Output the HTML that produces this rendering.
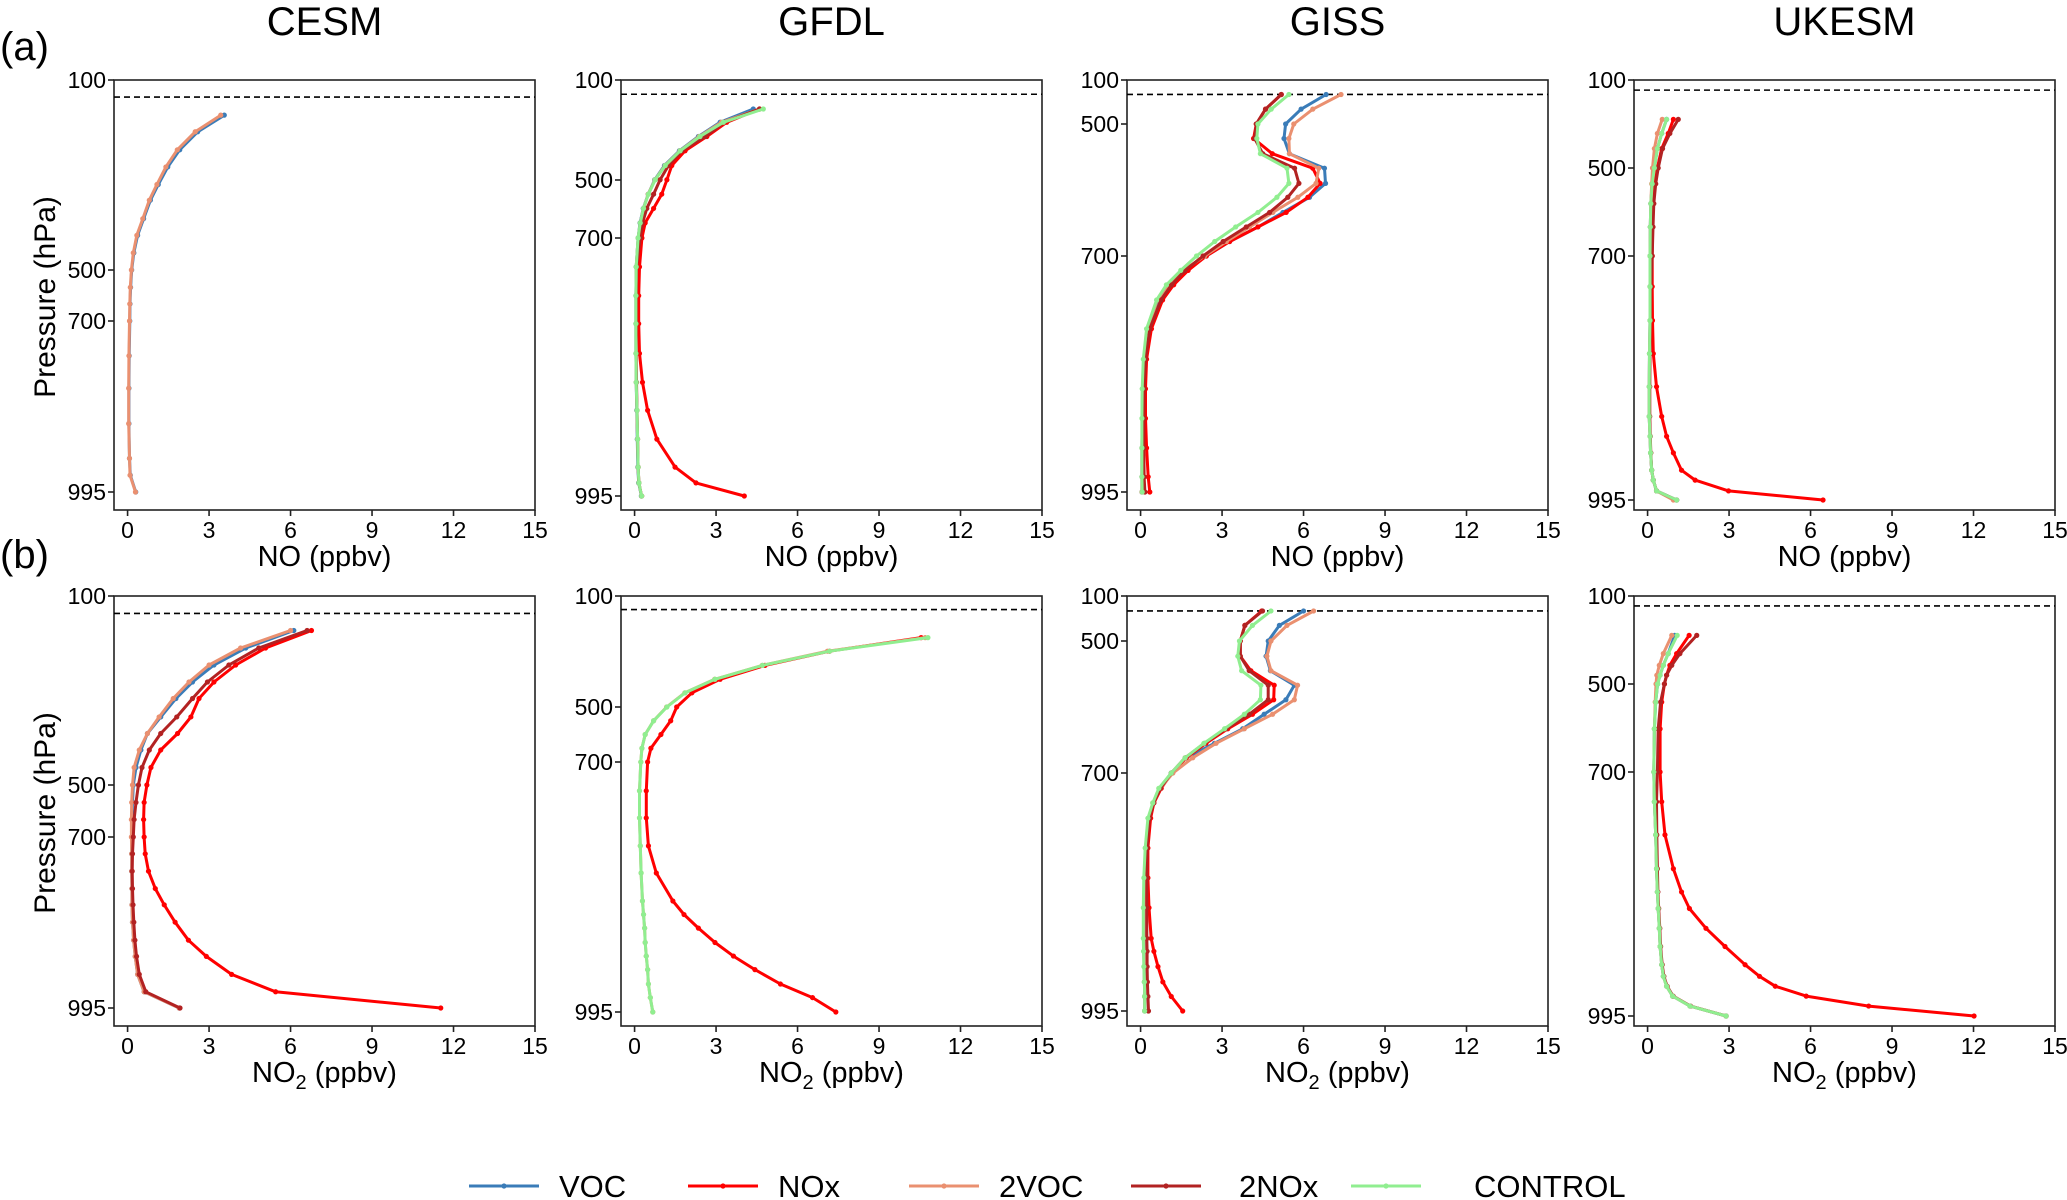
<!DOCTYPE html>
<html><head><meta charset="utf-8"><style>
html,body{margin:0;padding:0;background:#fff}
svg{display:block}
text{font-family:"Liberation Sans",Arial,sans-serif;fill:#000}
</style></head><body>
<svg id="fig" width="2067" height="1200" viewBox="0 0 2067 1200" xmlns="http://www.w3.org/2000/svg"></svg>
<script>
// ---- data ----
const seriesNames = ['VOC','NOx','2VOC','2NOx','CONTROL'];
const xTickLabels = [0,3,6,9,12,15];
const yTickLabels = [100,500,700,995];
const modelNames = ['CESM','GFDL','GISS','UKESM'];
const tropopause = [136,157,231,146, 137,149,233,145];

// CESM NO
const cesmA_pres = [174,209,247,283,320,353,392,427,464,500,568,633,700,760,816,877,937,966,995];
const cesmA_VOC  = [3.56,2.58,1.92,1.48,1.13,0.84,0.59,0.37,0.23,0.15,0.11,0.09,0.08,0.06,0.05,0.05,0.07,0.10,0.30];
const cesmA_2VOC = [3.43,2.49,1.83,1.41,1.08,0.80,0.56,0.34,0.21,0.14,0.10,0.08,0.07,0.05,0.04,0.04,0.07,0.09,0.29];
// GFDL NO
const gfdlA_pres = [216,269,326,383,442,499,549,598,648,700,733,766,798,832,865,897,930,962,980,995];
const gfdlA_VOC  = [4.37,3.15,2.35,1.65,1.10,0.74,0.50,0.32,0.20,0.13,0.06,0.05,0.05,0.05,0.06,0.08,0.10,0.12,0.15,0.25];
const gfdlA_NOx  = [4.6,3.39,2.66,1.86,1.37,1.19,1.0,0.70,0.39,0.27,0.18,0.15,0.15,0.18,0.29,0.48,0.82,1.49,2.26,4.04];
const gfdlA_2VOC = [4.6,3.2,2.38,1.67,1.12,0.75,0.50,0.33,0.21,0.13,0.06,0.05,0.05,0.05,0.06,0.09,0.11,0.13,0.16,0.26];
const gfdlA_2NOx = [4.6,3.3,2.6,1.74,1.25,0.94,0.70,0.45,0.29,0.21,0.07,0.06,0.06,0.06,0.07,0.09,0.11,0.13,0.16,0.26];
const gfdlA_CTL  = [4.74,3.27,2.41,1.68,1.13,0.76,0.51,0.33,0.21,0.13,0.06,0.05,0.05,0.05,0.06,0.09,0.11,0.13,0.16,0.26];
// GISS NO
const gissA_pres = [232,365,500,522,545,567,590,611,634,656,678,700,718,736,755,791,829,866,903,940,976,995];
const gissA_VOC  = [6.83,5.91,5.34,5.28,5.48,6.77,6.81,6.22,5.24,4.32,3.28,2.42,1.69,1.14,0.71,0.28,0.13,0.07,0.06,0.05,0.05,0.05];
const gissA_NOx  = [5.18,4.60,4.26,4.16,4.85,6.34,6.61,6.16,5.36,4.32,3.28,2.42,1.75,1.22,0.81,0.40,0.22,0.18,0.18,0.22,0.28,0.34];
const gissA_2VOC = [7.38,6.34,5.64,5.46,5.48,6.56,6.46,5.79,4.87,4.01,3.16,2.36,1.57,1.02,0.61,0.28,0.13,0.07,0.06,0.05,0.05,0.05];
const gissA_2NOx = [5.18,4.60,4.26,4.20,4.50,5.67,5.83,5.42,4.75,3.89,3.04,2.30,1.63,1.14,0.75,0.34,0.18,0.13,0.12,0.12,0.13,0.16];
const gissA_CTL  = [5.46,4.81,4.32,4.28,4.41,5.39,5.46,5.02,4.32,3.50,2.73,2.06,1.48,0.95,0.59,0.22,0.10,0.06,0.05,0.05,0.05,0.06];
// UKESM NO
const ukA_pres = [279,343,412,500,536,581,634,700,737,778,818,858,894,918,938,959,971,984,995];
const ukA_VOC  = [0.70,0.52,0.36,0.25,0.17,0.12,0.10,0.09,0.09,0.09,0.07,0.06,0.06,0.09,0.11,0.15,0.21,0.33,1.07];
const ukA_NOx  = [0.95,0.76,0.52,0.36,0.27,0.21,0.18,0.17,0.17,0.18,0.21,0.33,0.52,0.70,0.95,1.25,1.75,2.98,6.46];
const ukA_2VOC = [0.54,0.36,0.25,0.18,0.15,0.12,0.10,0.09,0.09,0.09,0.07,0.06,0.06,0.09,0.11,0.15,0.21,0.33,0.95];
const ukA_2NOx = [1.13,0.82,0.55,0.39,0.30,0.23,0.20,0.17,0.12,0.10,0.09,0.08,0.08,0.10,0.12,0.15,0.21,0.33,1.07];
const ukA_CTL  = [0.70,0.52,0.36,0.25,0.17,0.12,0.10,0.09,0.09,0.09,0.07,0.06,0.06,0.09,0.11,0.15,0.21,0.33,1.07];
// CESM NO2
const cesmB_pres = [173,210,246,282,317,356,391,426,463,500,567,633,700,729,759,789,817,847,878,906,937,967,995];
const cesmB_VOC  = [6.12,4.35,3.18,2.39,1.78,1.22,0.73,0.49,0.31,0.21,0.18,0.16,0.15,0.15,0.15,0.16,0.16,0.18,0.22,0.28,0.37,0.61,1.90];
const cesmB_NOx  = [6.77,5.08,3.98,3.18,2.63,2.33,1.84,1.22,0.86,0.71,0.61,0.59,0.61,0.65,0.77,1.02,1.35,1.75,2.24,2.90,3.83,5.45,11.53];
const cesmB_2VOC = [6.0,4.16,3.0,2.26,1.68,1.16,0.73,0.43,0.24,0.18,0.15,0.14,0.14,0.15,0.15,0.16,0.16,0.18,0.22,0.28,0.37,0.61,1.90];
const cesmB_2NOx = [6.61,4.83,3.73,2.94,2.39,1.81,1.22,0.80,0.53,0.40,0.31,0.24,0.21,0.18,0.17,0.18,0.20,0.23,0.27,0.33,0.43,0.67,1.93];
// GFDL NO2
const gfdlB_pres = [250,299,350,400,449,500,550,600,650,700,734,766,799,831,864,880,896,913,929,945,962,978,995];
const gfdlB_NOx  = [10.55,7.18,4.80,3.15,2.11,1.55,1.33,0.97,0.60,0.48,0.43,0.43,0.51,0.80,1.41,1.82,2.35,2.96,3.64,4.43,5.37,6.55,7.41];
const gfdlB_2VOC = [10.70,7.10,4.70,2.95,1.85,1.18,0.70,0.39,0.27,0.23,0.18,0.18,0.21,0.24,0.29,0.33,0.37,0.39,0.43,0.48,0.51,0.58,0.67];
const gfdlB_CTL  = [10.80,7.18,4.71,2.96,1.86,1.19,0.70,0.39,0.27,0.23,0.18,0.18,0.21,0.24,0.29,0.33,0.37,0.39,0.43,0.48,0.51,0.58,0.67];
// GISS NO2
const gissB_pres = [233,361,500,523,545,567,589,611,633,655,677,700,719,737,756,793,830,867,905,921,940,959,977,995];
const gissB_VOC  = [6.0,5.11,4.70,4.62,4.78,5.66,5.35,4.55,3.76,2.72,1.68,1.13,0.70,0.49,0.29,0.18,0.15,0.12,0.12,0.12,0.13,0.14,0.15,0.15];
const gissB_NOx  = [4.46,3.84,3.67,3.67,4.06,4.92,4.90,4.12,3.21,2.41,1.68,1.15,0.76,0.49,0.37,0.27,0.27,0.31,0.39,0.49,0.64,0.82,1.13,1.55];
const gissB_2VOC = [6.37,5.39,4.80,4.65,4.80,5.78,5.66,4.86,3.82,2.78,1.92,1.19,0.73,0.45,0.29,0.18,0.15,0.12,0.12,0.12,0.13,0.14,0.15,0.15];
const gissB_2NOx = [4.49,3.84,3.67,3.67,4.0,4.70,4.70,4.0,3.15,2.35,1.64,1.13,0.73,0.48,0.33,0.24,0.23,0.23,0.23,0.24,0.24,0.25,0.27,0.29];
const gissB_CTL  = [4.80,4.12,3.64,3.58,3.72,4.43,4.41,3.82,3.09,2.33,1.64,1.13,0.67,0.45,0.27,0.17,0.12,0.10,0.10,0.11,0.12,0.14,0.15,0.15];
// UKESM NO2
const ukB_pres = [279,362,415,460,500,541,602,700,736,776,817,845,865,889,911,933,947,959,971,983,995];
const ukB_VOC  = [1.0,0.76,0.58,0.46,0.37,0.30,0.25,0.23,0.25,0.30,0.33,0.36,0.39,0.43,0.46,0.52,0.58,0.70,0.92,1.56,2.89];
const ukB_NOx  = [1.53,1.07,0.82,0.70,0.62,0.52,0.46,0.46,0.52,0.64,0.95,1.25,1.54,2.15,2.85,3.59,4.12,4.70,5.84,8.14,12.02];
const ukB_2VOC = [0.89,0.58,0.43,0.34,0.31,0.28,0.25,0.23,0.25,0.30,0.33,0.36,0.39,0.43,0.46,0.52,0.58,0.70,0.92,1.56,2.89];
const ukB_2NOx = [1.81,1.19,0.89,0.70,0.62,0.48,0.39,0.36,0.33,0.34,0.36,0.38,0.41,0.45,0.48,0.54,0.60,0.72,0.94,1.58,2.89];
const ukB_CTL  = [1.09,0.76,0.58,0.46,0.37,0.30,0.25,0.23,0.25,0.30,0.33,0.36,0.39,0.43,0.46,0.52,0.58,0.70,0.92,1.56,2.89];

// ---- layout ----
const colors = {'VOC':'#3a7cb8','NOx':'#ff0000','2VOC':'#ea9070','2NOx':'#b22222','CONTROL':'#90ee90'};
const colLeft = [114,621,1127,1634];
const rowTop = [80,596];
const W = 421, H = 430;
const XMIN = -0.5, XMAX = 15;
const tickOffsets = [
  [190,241,412],[100,158,416],[44,176,412],[88,176,420],
  [189,241,412],[111,166,416],[45,177,415],[88,176,420]
];
const panels = [
  {pres:cesmA_pres, d:{'VOC':cesmA_VOC,'2VOC':cesmA_2VOC}},
  {pres:gfdlA_pres, d:{'VOC':gfdlA_VOC,'NOx':gfdlA_NOx,'2VOC':gfdlA_2VOC,'2NOx':gfdlA_2NOx,'CONTROL':gfdlA_CTL}},
  {pres:gissA_pres, d:{'VOC':gissA_VOC,'NOx':gissA_NOx,'2VOC':gissA_2VOC,'2NOx':gissA_2NOx,'CONTROL':gissA_CTL}},
  {pres:ukA_pres, d:{'VOC':ukA_VOC,'NOx':ukA_NOx,'2VOC':ukA_2VOC,'2NOx':ukA_2NOx,'CONTROL':ukA_CTL}},
  {pres:cesmB_pres, d:{'VOC':cesmB_VOC,'NOx':cesmB_NOx,'2VOC':cesmB_2VOC,'2NOx':cesmB_2NOx}},
  {pres:gfdlB_pres, d:{'NOx':gfdlB_NOx,'2VOC':gfdlB_2VOC,'CONTROL':gfdlB_CTL}},
  {pres:gissB_pres, d:{'VOC':gissB_VOC,'NOx':gissB_NOx,'2VOC':gissB_2VOC,'2NOx':gissB_2NOx,'CONTROL':gissB_CTL}},
  {pres:ukB_pres, d:{'VOC':ukB_VOC,'NOx':ukB_NOx,'2VOC':ukB_2VOC,'2NOx':ukB_2NOx,'CONTROL':ukB_CTL}}
];

const NS = 'http://www.w3.org/2000/svg';
const svg = document.getElementById('fig');
function mk(tag, attrs, parent){
  const e = document.createElementNS(NS, tag);
  for (const k in attrs) e.setAttribute(k, attrs[k]);
  (parent||svg).appendChild(e);
  return e;
}

for (let i=0;i<8;i++){
  const row = Math.floor(i/4), col = i%4;
  const L = colLeft[col], T = rowTop[row];
  const off = tickOffsets[i];
  const tickPx = [T, T+off[0], T+off[1], T+off[2]];
  const xs = v => L + (v - XMIN) / (XMAX - XMIN) * W;
  const ys = p => {
    let k = 0;
    while (k < yTickLabels.length-2 && p > yTickLabels[k+1]) k++;
    const p0 = yTickLabels[k], p1 = yTickLabels[k+1];
    return tickPx[k] + (p - p0) / (p1 - p0) * (tickPx[k+1] - tickPx[k]);
  };
  const g = mk('g', {});
  
  

  const fr = mk('rect', {x:L, y:T, width:W, height:H, fill:'none', stroke:'#222', 'stroke-width':1.6}, g);
  
  

  xTickLabels.forEach(v => {
    const x = xs(v);
    mk('line', {x1:x, x2:x, y1:T+H, y2:T+H+6, stroke:'#222', 'stroke-width':1.6}, g);
    const t = mk('text', {x:x, y:T+H+28, 'font-size':23, 'text-anchor':'middle'}, g);
    t.textContent = v;
    
    
  });
  yTickLabels.forEach((v, k) => {
    const y = tickPx[k];
    mk('line', {x1:L-6, x2:L, y1:y, y2:y, stroke:'#222', 'stroke-width':1.6}, g);
    const t = mk('text', {x:L-8, y:y+8, 'font-size':23, 'text-anchor':'end'}, g);
    t.textContent = v;
    
    
  });
  const ty = ys(tropopause[i]);
  const dl = mk('line', {x1:L, x2:L+W, y1:ty, y2:ty, stroke:'#000', 'stroke-width':1.6, 'stroke-dasharray':'6,4'}, g);
  
  

  const P = panels[i];
  seriesNames.forEach(s => {
    const vals = P.d[s];
    if (!vals) return;
    const pts = vals.map((v, j) => xs(v).toFixed(1) + ',' + ys(P.pres[j]).toFixed(1)).join(' ');
    const sg = mk('g', {}, g);
    
    
    mk('polyline', {points:pts, fill:'none', stroke:colors[s], 'stroke-width':3, 'stroke-linejoin':'round'}, sg);
    vals.forEach((v, j) => {
      const c = mk('circle', {cx:xs(v), cy:ys(P.pres[j]), r:2.6, fill:colors[s]}, sg);
      
      
    });
  });

  const xt = mk('text', {x:L+W/2, y:T+H+56, 'font-size':29, 'text-anchor':'middle'}, g);
  if (row===0) { xt.textContent = 'NO (ppbv)'; }
  else {
    xt.appendChild(document.createTextNode('NO'));
    const sub = mk('tspan', {'font-size':20, dy:7}, xt); sub.textContent = '2';
    const rest = mk('tspan', {dy:-7}, xt); rest.textContent = ' (ppbv)';
  }
  
  

  if (col===0){
    const cy = T + 217;
    const yt = mk('text', {x:0, y:0, 'font-size':30, 'text-anchor':'middle', transform:'translate(55,'+cy+') rotate(-90)'}, g);
    yt.textContent = 'Pressure (hPa)';
    
    
  }
  if (row===0){
    const tt = mk('text', {x:L+W/2, y:35, 'font-size':40, 'text-anchor':'middle'}, g);
    tt.textContent = modelNames[col];
    
    
  }
}
const la = mk('text', {x:0, y:60, 'font-size':40}); la.textContent='(a)';


const lb = mk('text', {x:0, y:568, 'font-size':40}); lb.textContent='(b)';



const legX = [469,688,909,1131,1351];
const legTextX = [559,778,999,1239,1474];
const lg = mk('g', {});


seriesNames.forEach((s, k) => {
  const x = legX[k], y = 1186;
  const e = mk('g', {}, lg);
  
  
  mk('line', {x1:x, x2:x+70, y1:y, y2:y, stroke:colors[s], 'stroke-width':3}, e);
  mk('circle', {cx:x+35, cy:y, r:2.6, fill:colors[s]}, e);
  const t = mk('text', {x:legTextX[k], y:y+11, 'font-size':31}, e);
  t.textContent = s;
});
</script>
</body></html>
